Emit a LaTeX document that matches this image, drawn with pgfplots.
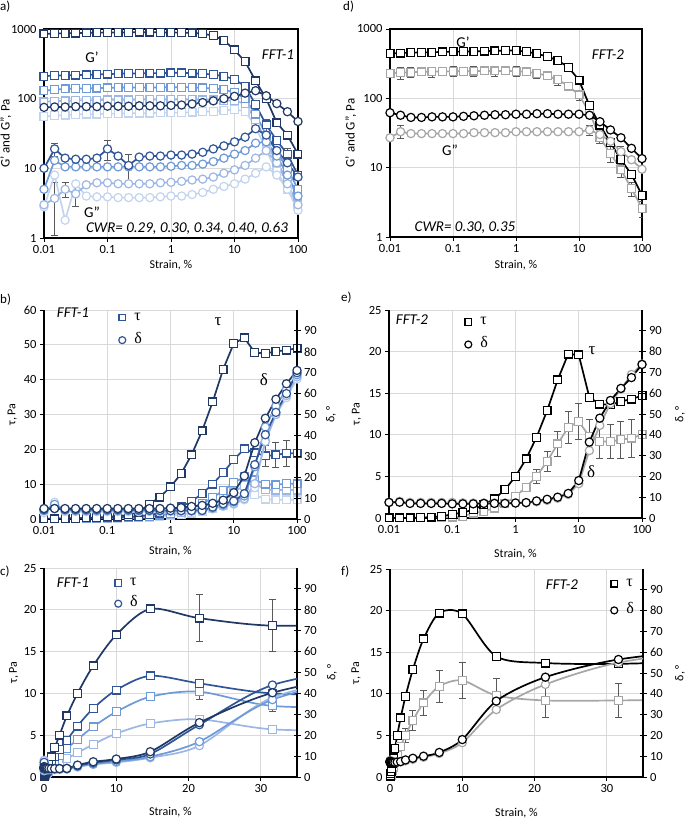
\documentclass[border=0pt]{standalone}
\usepackage{pgfplots}
\pgfplotsset{compat=1.18}
\usepackage{pgfplotstable}
\usepackage{fontspec}
\setmainfont{Carlito}
\newfontfamily\gr{Liberation Serif}
\definecolor{c1}{HTML}{1F3864}
\definecolor{c2}{HTML}{2F5597}
\definecolor{c3}{HTML}{6E9AD8}
\definecolor{c4}{HTML}{9DB7E4}
\definecolor{c5}{HTML}{C3D4EF}
\definecolor{gr1}{HTML}{A6A6A6}
\definecolor{ebc}{HTML}{595959}
\definecolor{gridc}{HTML}{D9D9D9}

\pgfplotstableread{
x S1 S2 S3 S4 S5 C1 C2 C3 C4 C5
0.01 850 210 130 90 55 75 10 5 3 2.8
0.0147 860 215 135 92 57 76 19 13 3.7 8
0.0215 870 215 138 93 58 76 14 10.5 5 1.8
0.0316 875 218 140 94 59 77 13.5 10.5 4.3 6
0.0464 880 220 140 95 60 77 13.5 10.5 5.8 4
0.0681 885 222 142 95 60 77 14 10.5 6.2 3.9
0.1 890 225 143 96 61 78 19 10.5 6.2 3.9
0.147 890 228 144 96 61 78 15 10.5 6 3.8
0.215 895 230 145 96 62 78 11 10.5 6 3.8
0.316 900 230 145 97 62 79 14.5 10.5 6 3.8
0.464 900 232 145 97 62 79 15 10.5 6 3.8
0.681 895 233 145 97 63 79 15 10.5 6.2 3.9
1 890 235 146 97 63 80 15.5 10.7 6.3 4
1.47 885 235 146 97 63 81 15.5 11 6.5 4
2.15 880 232 145 97 64 84 16 11 6.8 4.2
3.16 860 228 143 96 65 88 17 11.5 7 4.5
4.64 800 222 140 96 66 93 19 12.5 7.5 5
6.81 690 210 135 95 68 100 21 14 8.5 5.5
10 500 190 122 93 70 108 24 16 9.5 6
14.7 340 150 100 85 66 120 28 18 11 7
21.5 180 82 60 50 40 130 37 23 14 8.5
31.6 100 42 30 24 18 110 30 24 18 10.5
46.4 45 25 17 12 9 85 18 15 12 8
68.1 30 16 10 7 5 65 12 8 6 5
100 16 8 5 4 3 47 7.5 4 3 2.5
}\tabA

\pgfplotstableread{
x BS GS BC GC
0.01 440 230 62 27
0.0147 450 235 57 33
0.0215 455 238 53 31
0.0316 458 240 53 31
0.0464 462 242 54 31
0.0681 466 244 54 31
0.1 470 245 54 31
0.147 473 246 55 31
0.215 476 247 56 32
0.316 480 248 57 32
0.464 483 248 58 32
0.681 487 248 58 32
1 490 246 59 33
1.47 470 240 59 33
2.15 440 230 60 33
3.16 400 210 60 33
4.64 350 185 59 33
6.81 280 150 59 33
10 183 112 59 33
14.7 78 62 57 35
21.5 41 27 46 30
31.6 23 16 35 24
46.4 13 9.3 27 17
68.1 8 5 19 13
100 4 2.6 13.5 9.5
}\tabD

\pgfplotstableread{
x At Bt Ct Dt Et Ad Bd Cd Dd Ed
0.01 0 0.1 0.1 0.1 0 5 4.5 4 4 3
0.0147 0.05 0.1 0.1 0.1 0.1 5 5 7 6 8
0.0215 0.1 0.2 0.1 0.1 0.1 5 4.5 4.5 4 3.5
0.0316 0.2 0.2 0.2 0.1 0.1 5 4.5 4 4 3.5
0.0464 0.3 0.3 0.2 0.2 0.1 5 4.5 4 4 3.5
0.0681 0.4 0.3 0.2 0.2 0.1 5 4.5 4 4 3.5
0.1 0.6 0.4 0.3 0.2 0.2 5 4.5 4 4 3.5
0.147 0.8 0.5 0.4 0.3 0.2 5 4.5 4 4 3.5
0.215 1.2 0.6 0.5 0.4 0.3 5 4.5 4 4 3.5
0.316 2.0 0.8 0.6 0.5 0.4 5 4.3 4 4 3.5
0.464 4.3 1.2 0.8 0.7 0.5 5 4.2 4 4 3.5
0.681 6.3 1.7 1.1 1.0 0.7 5 4.1 4 4 3.5
1 9.2 2.4 1.6 1.4 1.0 5.2 4.0 4 4 3.5
1.47 13 3.5 2.4 1.9 1.3 5.4 4.0 4 4 3.5
2.15 18.4 5.0 3.3 2.6 1.7 6 4.0 4 4 3.6
3.16 25.3 7.3 4.4 3.4 2.2 6.5 4.1 4.1 4 3.8
4.64 33.6 10.0 6.1 4.5 2.9 7.5 5.7 5.4 5 4.8
6.81 43 13.3 8.2 6.0 3.9 9 7.3 6.8 6.3 6
10 50.4 17.0 10.4 7.8 5.2 12.6 8.6 8.2 7.4 7
14.7 52 20.1 12.1 9.6 6.4 20.6 12.1 11 9.7 9.2
21.5 47.8 19.0 11.2 10.2 6.9 36.5 26 25 16.9 15
31.6 47.5 18.1 10.0 8.5 5.7 48.2 40.3 44 37 38
46.4 48.1 18.4 9.8 8.3 5.5 57.3 51 54 50 50
68.1 48.5 18.9 10.2 8.3 5.5 64.7 60 62 59 58
100 49 18.8 10.1 8.3 5.5 71.1 70 69 68 67
}\tabB

\pgfplotstableread{
x Bt Gt Bd Gd
0.01 0 0 7.5 7.5
0.0147 0 0 7.6 8
0.0215 0 0 7.0 7.5
0.0316 0.05 0 7.0 7.5
0.0464 0.1 0 7.0 7.5
0.0681 0.2 0.05 7.0 7.5
0.1 0.45 0.1 6.8 7.5
0.147 0.65 0.2 6.8 7.3
0.215 1.0 0.6 6.8 7.2
0.316 1.6 0.8 7.0 7.2
0.464 2.3 1.2 7.0 7.2
0.681 3.4 1.7 7.0 7.2
1 5.0 2.6 7.2 7.2
1.47 7.1 3.7 7.4 7.3
2.15 9.7 5.0 8.2 7.8
3.16 12.9 6.8 9.0 8.5
4.64 16.6 8.9 10.0 9.5
6.81 19.7 10.9 11.8 11.3
10 19.6 11.6 18.0 16.5
14.7 14.5 9.8 36.5 32.4
21.5 13.7 9.2 48 44.5
31.6 13.6 9.2 56.5 55
46.4 14.0 9.4 62.3 62
68.1 14.3 9.6 67.5 69
100 14.7 10.0 73.8 74
}\tabE

\pgfplotsset{
  mybase/.style={scale only axis, anchor=south west,
    grid=major, major grid style={draw=gridc, line width=0.8pt},
    tick label style={font=\fontsize{12.5}{14}\selectfont},
    label style={font=\fontsize{12}{14}\selectfont},
    /pgf/number format/assume math mode=true,
    tick style={line width=0.8pt, black}, major tick length=4pt,
    tick align=outside, xtick pos=bottom, ytick pos=left,
    axis line style={line width=1.1pt, black}},
  mylogx/.style={xmin=0.01, xmax=100, xtick={0.01,0.1,1,10,100},
    xticklabels={0.01,0.1,1,10,100}, xminorticks=false},
  mylinx/.style={xmin=0, xmax=35, xtick={0,10,20,30}},
  myleft/.style={mybase, axis x line*=bottom, axis y line*=left,
    axis line style={-, line width=1.1pt, black}, tick align=outside},
  myright/.style={scale only axis, anchor=south west,
    axis x line=none, axis y line*=right, ymin=0, ymax=100,
    ytick={0,10,...,90},
    tick label style={font=\fontsize{12.5}{14}\selectfont},
    label style={font=\fontsize{12}{14}\selectfont},
    /pgf/number format/assume math mode=true,
    tick align=center, major tick length=7pt,
    tick style={line width=0.8pt, black},
    axis line style={-, line width=1.1pt, black}, ylabel={δ, °}},
  sq/.style={color=#1, line width=1.7pt, mark=square*, mark size=3.9pt,
    mark options={fill=white, solid, line width=1.2pt}},
  ci/.style={color=#1, line width=1.7pt, mark=*, mark size=4.1pt,
    mark options={fill=white, solid, line width=1.2pt}},
  ebar/.style={only marks, mark=none, forget plot,
    error bars/y dir=both, error bars/y explicit,
    error bars/error bar style={draw=ebc, line width=0.9pt},
    error bars/error mark options={rotate=90, mark size=3.5pt, draw=ebc, line width=0.9pt}},
  leg/.style 2 args={legend style={draw=none, fill=none, at={#1}, anchor=north west,
    font=\gr\fontsize{16}{16}\selectfont, row sep=#2, inner sep=0pt,
    nodes={inner sep=0pt, anchor=base west}},
    legend cell align=left,
    legend image code/.code={\path[draw=none] (-8pt,0pt) -- (12pt,0pt);
      \draw[##1] plot coordinates {(0pt,3pt)};}},
  lsq/.style={only marks, mark=square*, color=#1, mark size=3.3pt, mark options={fill=white, line width=1.2pt}},
  lci/.style={only marks, mark=*, color=#1, mark size=3.5pt, mark options={fill=white, line width=1.2pt}},
}

\begin{document}
\begin{tikzpicture}[x=1pt,y=1pt]
\path[use as bounding box] (0,0) rectangle (685,818);

% ---------------- panel a ----------------
\begin{axis}[xmode=log, ymode=log, mybase, mylogx, at={(44pt,580pt)}, width=254pt, height=209pt,
  ymin=1, ymax=1000, ytick={1,10,100,1000}, yticklabels={1,10,100,1000},
  yminorticks=false,
  xlabel={Strain, \%}, ylabel={G' and G'', Pa},
  xlabel style={at={(axis description cs:0.5,-0.13)}, anchor=center},
  ylabel style={at={(axis description cs:-0.15,0.5)}, anchor=center, font=\fontsize{13}{15}\selectfont}]
\addplot[ebar] coordinates {(0.0147,19) +- (0,4) (0.1,19) +- (0,6) (0.215,11) +- (0,5)
  (0.0215,5) +- (0,1.2) (0.0316,4.3) +- (0,1.5) (0.0147,3.7) +- (0,2.6)
  (21.5,82) +- (0,12) (31.6,42) +- (0,8) (68.1,16) +- (0,3)};
\addplot[sq=c5] table[x=x,y=S5]{\tabA};
\addplot[sq=c4] table[x=x,y=S4]{\tabA};
\addplot[sq=c3] table[x=x,y=S3]{\tabA};
\addplot[sq=c2] table[x=x,y=S2]{\tabA};
\addplot[sq=c1] table[x=x,y=S1]{\tabA};
\addplot[ci=c5] table[x=x,y=C5]{\tabA};
\addplot[ci=c4] table[x=x,y=C4]{\tabA};
\addplot[ci=c3] table[x=x,y=C3]{\tabA};
\addplot[ci=c2] table[x=x,y=C2]{\tabA};
\addplot[ci=c1] table[x=x,y=C1]{\tabA};
\end{axis}

% ---------------- panel d ----------------
\begin{axis}[xmode=log, ymode=log, mybase, mylogx, at={(390pt,581pt)}, width=252pt, height=208pt,
  ymin=1, ymax=1000, ytick={1,10,100,1000}, yticklabels={1,10,100,1000},
  yminorticks=false,
  xlabel={Strain, \%}, ylabel={G' and G'', Pa},
  xlabel style={at={(axis description cs:0.5,-0.135)}, anchor=center},
  ylabel style={at={(axis description cs:-0.155,0.5)}, anchor=center, font=\fontsize{13}{15}\selectfont}]
\addplot[ebar] coordinates {(0.0147,235) +- (0,45) (0.0215,238) +- (0,40) (0.0464,242) +- (0,40)
  (0.1,245) +- (0,40) (0.215,247) +- (0,40) (0.464,248) +- (0,40) (1,246) +- (0,40)
  (2.15,230) +- (0,35) (4.64,185) +- (0,30) (10,112) +- (0,20) (21.5,27) +- (0,5)
  (31.6,16) +- (0,4) (46.4,9.3) +- (0,2) (68.1,5) +- (0,1.2) (100,2.6) +- (0,0.7)
  (0.0147,33) +- (0,7) (14.7,35) +- (0,6) (46.4,17) +- (0,3)};
\addplot[sq=gr1] table[x=x,y=GS]{\tabD};
\addplot[sq=black] table[x=x,y=BS]{\tabD};
\addplot[ci=gr1] table[x=x,y=GC]{\tabD};
\addplot[ci=black] table[x=x,y=BC]{\tabD};
\end{axis}

% ---------------- panel b ----------------
\begin{axis}[xmode=log, myleft, mylogx, at={(44pt,299pt)}, width=253pt, height=209pt,
  ymin=0, ymax=60, ytick={0,10,...,60},
  xlabel={Strain, \%}, ylabel={τ, Pa},
  xlabel style={at={(axis description cs:0.5,-0.155)}, anchor=center},
  ylabel style={at={(axis description cs:-0.125,0.5)}, anchor=center},
  leg={(rel axis cs:0.277,0.986)}{10pt}]
\addlegendimage{lsq=c2}
\addlegendentry{τ}
\addlegendimage{lci=c2}
\addlegendentry{δ}
\addplot[ebar] coordinates {(31.6,18.1) +- (0,3.1) (46.4,18.4) +- (0,3.5) (68.1,18.9) +- (0,3.7)};
\addplot[sq=c5] table[x=x,y=Et]{\tabB};
\addplot[sq=c4] table[x=x,y=Dt]{\tabB};
\addplot[sq=c3] table[x=x,y=Ct]{\tabB};
\addplot[sq=c2] table[x=x,y=Bt]{\tabB};
\addplot[sq=c1] table[x=x,y=At]{\tabB};
\end{axis}
\begin{axis}[xmode=log, myright, mylogx, at={(44pt,299pt)}, width=253pt, height=209pt,
  ylabel style={at={(axis description cs:1.135,0.5)}, anchor=center}]
\addplot[ci=c5] table[x=x,y=Ed]{\tabB};
\addplot[ci=c4] table[x=x,y=Dd]{\tabB};
\addplot[ci=c3] table[x=x,y=Cd]{\tabB};
\addplot[ci=c2] table[x=x,y=Bd]{\tabB};
\addplot[ci=c1] table[x=x,y=Ad]{\tabB};
\end{axis}

% ---------------- panel e ----------------
\begin{axis}[xmode=log, myleft, mylogx, at={(389pt,300pt)}, width=253pt, height=208pt,
  ymin=0, ymax=25, ytick={0,5,...,25},
  xlabel={Strain, \%}, ylabel={τ, Pa},
  xlabel style={at={(axis description cs:0.5,-0.175)}, anchor=center},
  ylabel style={at={(axis description cs:-0.128,0.5)}, anchor=center},
  leg={(rel axis cs:0.281,0.965)}{10pt}]
\addlegendimage{lsq=black}
\addlegendentry{τ}
\addlegendimage{lci=black}
\addlegendentry{δ}
\addplot[ebar] coordinates {(1.47,3.7) +- (0,0.5) (2.15,5.0) +- (0,0.8) (3.16,6.8) +- (0,1.2)
  (4.64,8.9) +- (0,1.5) (6.81,10.9) +- (0,1.9) (10,11.6) +- (0,2.2) (14.7,9.8) +- (0,2.0)
  (21.5,9.2) +- (0,2.0) (31.6,9.2) +- (0,2.1) (46.4,9.4) +- (0,2.2) (68.1,9.6) +- (0,2.3) (100,10) +- (0,2.5)};
\addplot[sq=gr1] table[x=x,y=Gt]{\tabE};
\addplot[sq=black] table[x=x,y=Bt]{\tabE};
\end{axis}
\begin{axis}[xmode=log, myright, mylogx, at={(389pt,300pt)}, width=253pt, height=208pt,
  ylabel style={at={(axis description cs:1.15,0.5)}, anchor=center}]
\addplot[ci=gr1] table[x=x,y=Gd]{\tabE};
\addplot[ci=black] table[x=x,y=Bd]{\tabE};
\end{axis}

% ---------------- panel c ----------------
\begin{axis}[myleft, mylinx, at={(44pt,41pt)}, width=253pt, height=209pt,
  ymin=0, ymax=25, ytick={0,5,...,25},
  xlabel={Strain, \%}, ylabel={τ, Pa},
  xlabel style={at={(axis description cs:0.5,-0.166)}, anchor=center},
  ylabel style={at={(axis description cs:-0.119,0.5)}, anchor=center},
  leg={(rel axis cs:0.261,0.95)}{8pt}]
\addlegendimage{lsq=c2}
\addlegendentry{τ}
\addlegendimage{lci=c2}
\addlegendentry{δ}
\addplot[ebar] coordinates {(21.5,19.0) +- (0,2.8) (31.6,18.1) +- (0,3.1) (21.5,10.2) +- (0,0.9) (31.6,8.5) +- (0,0.7)};
\addplot[sq=c4, smooth, restrict x to domain=0:50] table[x=x,y=Et]{\tabB};
\addplot[sq=c3, smooth, restrict x to domain=0:50] table[x=x,y=Dt]{\tabB};
\addplot[sq=c2, smooth, restrict x to domain=0:50] table[x=x,y=Ct]{\tabB};
\addplot[sq=c1, smooth, restrict x to domain=0:50] table[x=x,y=Bt]{\tabB};
\end{axis}
\begin{axis}[myright, mylinx, at={(44pt,41pt)}, width=253pt, height=209pt,
  ylabel style={at={(axis description cs:1.138,0.5)}, anchor=center}]
\addplot[ci=c4, smooth, restrict x to domain=0:50] table[x=x,y=Ed]{\tabB};
\addplot[ci=c3, smooth, restrict x to domain=0:50] table[x=x,y=Dd]{\tabB};
\addplot[ci=c2, smooth, restrict x to domain=0:50] table[x=x,y=Cd]{\tabB};
\addplot[ci=c1, smooth, restrict x to domain=0:50] table[x=x,y=Bd]{\tabB};
\end{axis}

% ---------------- panel f ----------------
\begin{axis}[myleft, mylinx, at={(390pt,41pt)}, width=253pt, height=208pt,
  ymin=0, ymax=25, ytick={0,5,...,25},
  xlabel={Strain, \%}, ylabel={τ, Pa},
  xlabel style={at={(axis description cs:0.5,-0.172)}, anchor=center},
  ylabel style={at={(axis description cs:-0.134,0.5)}, anchor=center},
  leg={(rel axis cs:0.854,0.951)}{14pt}]
\addlegendimage{lsq=black}
\addlegendentry{τ}
\addlegendimage{lci=black}
\addlegendentry{δ}
\addplot[ebar] coordinates {(2.15,5.0) +- (0,0.8) (3.16,6.8) +- (0,1.2)
  (4.64,8.9) +- (0,1.5) (6.81,10.9) +- (0,1.9) (10,11.6) +- (0,2.2) (14.7,9.8) +- (0,2.0)
  (21.5,9.2) +- (0,2.0) (31.6,9.2) +- (0,2.1)};
\addplot[sq=gr1, smooth, restrict x to domain=0:50] table[x=x,y=Gt]{\tabE};
\addplot[sq=black, smooth, restrict x to domain=0:50] table[x=x,y=Bt]{\tabE};
\end{axis}
\begin{axis}[myright, mylinx, at={(390pt,41pt)}, width=253pt, height=208pt,
  ylabel style={at={(axis description cs:1.146,0.5)}, anchor=center}]
\addplot[ci=gr1, smooth, restrict x to domain=0:50] table[x=x,y=Gd]{\tabE};
\addplot[ci=black, smooth, restrict x to domain=0:50] table[x=x,y=Bd]{\tabE};
\end{axis}

% ---------------- annotations ----------------
\begin{scope}[every node/.style={font=\fontsize{15}{17}\selectfont, inner sep=0pt}]
\node at (92,761) {G’};
\node at (92,606) {G”};
\node[font=\fontsize{15}{17}\selectfont\itshape] at (278,763) {FFT-1};
\node[font=\fontsize{15}{17}\selectfont\itshape] at (187,590) {CWR= 0.29, 0.30, 0.34, 0.40, 0.63};
\node at (463,776) {G’};
\node at (450,668) {G”};
\node[font=\fontsize{15}{17}\selectfont\itshape] at (608,763) {FFT-2};
\node[font=\fontsize{15}{17}\selectfont\itshape] at (465,590) {CWR= 0.30, 0.35};
\node[font=\fontsize{15}{17}\selectfont\itshape] at (73,505) {FFT-1};
\node[font=\gr\fontsize{17}{17}\selectfont] at (218,496) {τ};
\node[font=\gr\fontsize{17}{17}\selectfont] at (264,438) {δ};
\node[font=\fontsize{15}{17}\selectfont\itshape] at (412,498) {FFT-2};
\node[font=\gr\fontsize{17}{17}\selectfont] at (592,467) {τ};
\node[font=\gr\fontsize{17}{17}\selectfont] at (591,346) {δ};
\node[font=\fontsize{15}{17}\selectfont\itshape] at (73,235) {FFT-1};
\node[font=\fontsize{15}{17}\selectfont\itshape] at (562,233) {FFT-2};
\node[anchor=west, font=\fontsize{13}{15}\selectfont] at (0,811) {a)};
\node[anchor=west, font=\fontsize{13}{15}\selectfont] at (343,811) {d)};
\node[anchor=west, font=\fontsize{13}{15}\selectfont] at (0,518) {b)};
\node[anchor=west, font=\fontsize{13}{15}\selectfont] at (341,520) {e)};
\node[anchor=west, font=\fontsize{13}{15}\selectfont] at (0,246) {c)};
\node[anchor=west, font=\fontsize{13}{15}\selectfont] at (341,246) {f)};
\end{scope}
\end{tikzpicture}
\end{document}
